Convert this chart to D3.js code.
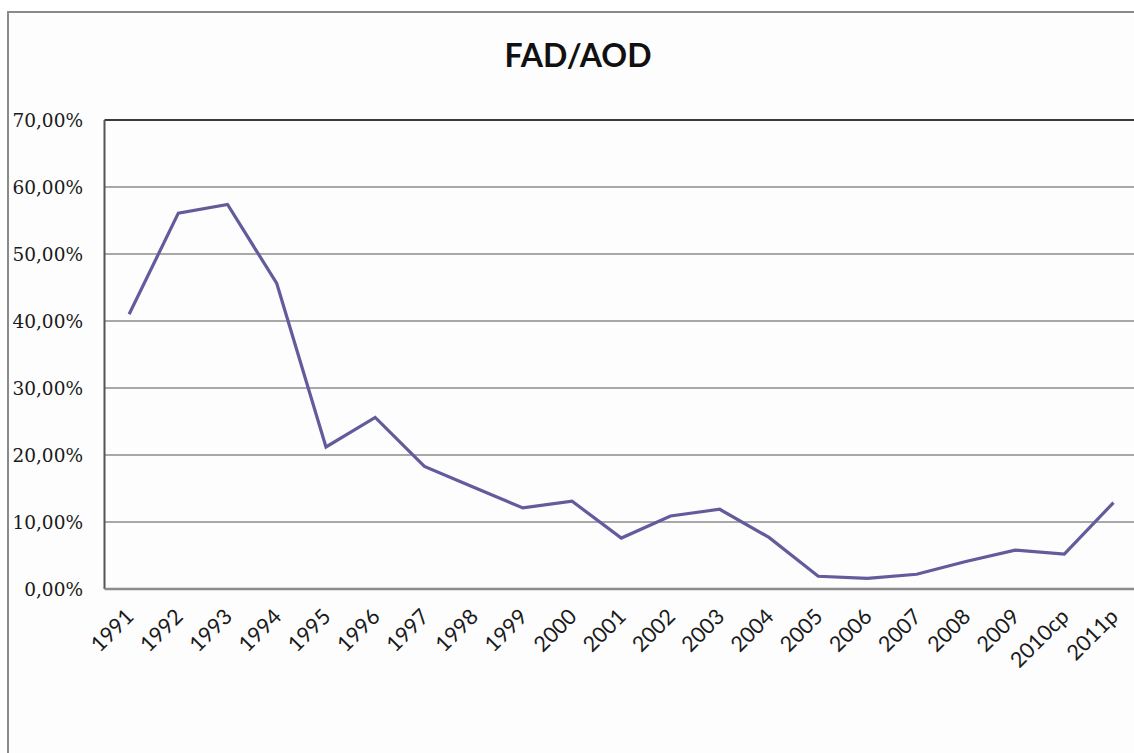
<!DOCTYPE html>
<html>
<head>
<meta charset="utf-8">
<script src="https://cdn.jsdelivr.net/npm/d3@7"></script>
<style>
  html, body { margin: 0; padding: 0; background: #ffffff; }
  svg { display: block; }
</style>
</head>
<body>
<svg id="chart" width="1134" height="753"></svg>
<script>
const title = "FAD/AOD";
const categories = ["1991","1992","1993","1994","1995","1996","1997","1998","1999","2000",
  "2001","2002","2003","2004","2005","2006","2007","2008","2009","2010cp","2011p"];
const values = [41.0, 56.1, 57.4, 45.6, 21.2, 25.6, 18.3, 15.2, 12.1, 13.1,
  7.6, 10.9, 11.9, 7.7, 1.9, 1.6, 2.2, 4.1, 5.8, 5.2, 12.9];
const yTicks = [0, 10, 20, 30, 40, 50, 60, 70];

const svg = d3.select("#chart");
const W = 1134, H = 753;

// outer chart frame
svg.append("rect").attr("x", 0).attr("y", 0).attr("width", W).attr("height", H).attr("fill", "#ffffff");
svg.append("rect").attr("x", 8).attr("y", 12).attr("width", W + 20).attr("height", H + 20)
  .attr("fill", "#fdfdfd").attr("stroke", "#8a8a8a").attr("stroke-width", 2);

const plot = { left: 104.5, top: 120, bottom: 589 };
const step = 49.22;
const plotRight = plot.left + step * categories.length;

const x = d3.scaleBand().domain(categories).range([plot.left, plotRight]).paddingInner(0).paddingOuter(0);
const y = d3.scaleLinear().domain([0, 70]).range([plot.bottom, plot.top]);

// gridlines
svg.append("g").selectAll("line").data(yTicks.filter(t => t > 0 && t < 70)).join("line")
  .attr("x1", plot.left).attr("x2", plotRight)
  .attr("y1", d => y(d)).attr("y2", d => y(d))
  .attr("stroke", "#a8a8a8").attr("stroke-width", 2);

// plot border: top, left (dark), bottom (gray)
svg.append("line").attr("x1", plot.left).attr("x2", plotRight).attr("y1", y(70)).attr("y2", y(70))
  .attr("stroke", "#3a3a3a").attr("stroke-width", 2);
svg.append("line").attr("x1", plot.left).attr("x2", plot.left).attr("y1", y(70)).attr("y2", y(0))
  .attr("stroke", "#555555").attr("stroke-width", 2);
svg.append("line").attr("x1", plot.left).attr("x2", plotRight).attr("y1", y(0)).attr("y2", y(0))
  .attr("stroke", "#8c8c8c").attr("stroke-width", 2.5);

// y axis labels
const fmt = v => v.toFixed(2).replace(".", ",") + "%";
svg.append("g").selectAll("text").data(yTicks).join("text")
  .attr("x", 83).attr("y", d => y(d) + 2)
  .attr("text-anchor", "end").attr("dominant-baseline", "middle")
  .attr("font-family", "'DejaVu Serif', serif").attr("font-size", 18.5)
  .attr("fill", "#1a1a1a")
  .text(fmt);

// x axis labels
svg.append("g").selectAll("text").data(categories).join("text")
  .attr("transform", d => `translate(${x(d) + x.bandwidth() / 2 + 6},${plot.bottom + 29}) rotate(-45)`)
  .attr("text-anchor", "end")
  .attr("font-family", "Lato, 'Open Sans', sans-serif").attr("font-size", 21.5)
  .attr("fill", "#1a1a1a")
  .text(d => d);

// line
const line = d3.line()
  .x((d, i) => x(categories[i]) + x.bandwidth() / 2)
  .y(d => y(d));
svg.append("path").datum(values)
  .attr("d", line)
  .attr("fill", "none").attr("stroke", "#625b9c").attr("stroke-width", 3.2)
  .attr("stroke-linejoin", "miter");

// title
svg.append("text").attr("x", 578).attr("y", 67)
  .attr("text-anchor", "middle")
  .attr("font-family", "Lato, 'Open Sans', sans-serif").attr("font-weight", "bold").attr("font-size", 32)
  .attr("fill", "#111")
  .text(title);
</script>
</body>
</html>
